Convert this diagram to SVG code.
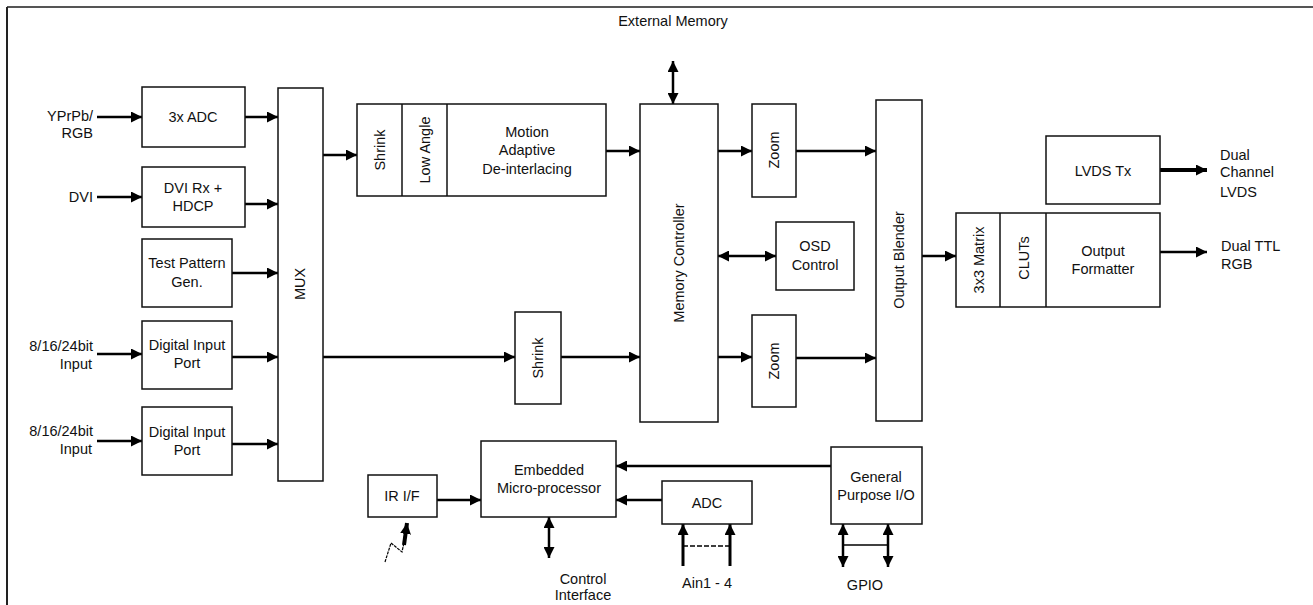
<svg xmlns="http://www.w3.org/2000/svg" width="1313" height="605" viewBox="0 0 1313 605">
<defs>
<style>
.box{fill:#fff;stroke:#111;stroke-width:1.5}
.t{font-family:"Liberation Sans",Arial,sans-serif;font-size:14.5px;fill:#111;text-anchor:middle}
.l{font-family:"Liberation Sans",Arial,sans-serif;font-size:14.5px;fill:#111}
.r{text-anchor:end}
.c{fill:none;stroke:#000;stroke-width:2.5}
.c1{marker-end:url(#ah)}
.c2{marker-end:url(#ah);marker-start:url(#ah)}
</style>
<marker id="ah" markerWidth="11" markerHeight="11" refX="11" refY="5.5" orient="auto-start-reverse" markerUnits="userSpaceOnUse"><path d="M0,0 L11,5.5 L0,11 z" fill="#000"/></marker>
</defs>
<rect width="1313" height="605" fill="#fff"/>
<line x1="7" y1="7" x2="1313" y2="7" stroke="#555" stroke-width="2"/>
<line x1="7" y1="7" x2="7" y2="605" stroke="#222" stroke-width="2"/>

<g id="connectors">
<line class="c c1" x1="97" y1="117" x2="142" y2="117"/>
<line class="c c1" x1="245" y1="117" x2="278" y2="117"/>
<line class="c c1" x1="97" y1="197" x2="142" y2="197"/>
<line class="c c1" x1="245" y1="204" x2="278" y2="204"/>
<line class="c c1" x1="232" y1="273" x2="278" y2="273"/>
<line class="c c1" x1="97" y1="354" x2="142" y2="354"/>
<line class="c c1" x1="232" y1="357" x2="278" y2="357"/>
<line class="c c1" x1="97" y1="441" x2="142" y2="441"/>
<line class="c c1" x1="232" y1="444" x2="278" y2="444"/>
<line class="c c1" x1="323" y1="155" x2="357" y2="155"/>
<line class="c c1" x1="606" y1="151" x2="640" y2="151"/>
<line class="c c2" x1="673" y1="61" x2="673" y2="104"/>
<line class="c c1" x1="718" y1="151" x2="752" y2="151"/>
<line class="c c1" x1="796" y1="151" x2="876" y2="151"/>
<line class="c c2" x1="718" y1="256" x2="776" y2="256"/>
<line class="c c1" x1="718" y1="357" x2="752" y2="357"/>
<line class="c c1" x1="796" y1="358" x2="876" y2="358"/>
<line class="c c1" x1="323" y1="357" x2="515" y2="357"/>
<line class="c c1" x1="561" y1="357" x2="640" y2="357"/>
<line class="c c1" x1="922" y1="256" x2="956" y2="256"/>
<line class="c c1" x1="1160" y1="170" x2="1207" y2="170" style="stroke-width:4"/>
<line class="c c1" x1="1160" y1="252" x2="1207" y2="252"/>
<line class="c c1" x1="831" y1="466" x2="616" y2="466"/>
<line class="c c1" x1="662" y1="500" x2="616" y2="500"/>
<line class="c c1" x1="437" y1="500" x2="481" y2="500"/>
<line class="c c2" x1="549" y1="517" x2="549" y2="558"/>
<line class="c c1" x1="683" y1="566" x2="683" y2="524" style="stroke-width:3"/>
<line class="c c1" x1="730" y1="566" x2="730" y2="524" style="stroke-width:3"/>
<line x1="683" y1="546" x2="730" y2="546" stroke="#000" stroke-width="1.5" stroke-dasharray="5,2"/>
<line class="c c2" x1="843" y1="524" x2="843" y2="567"/>
<line class="c c2" x1="888" y1="524" x2="888" y2="567"/>
<line x1="843" y1="545" x2="888" y2="545" stroke="#000" stroke-width="1.5"/>
<polyline points="385,562 391,543 402,552 405,538" fill="none" stroke="#000" stroke-width="1.2" stroke-dasharray="3,1"/>
<line class="c c1" x1="404" y1="545" x2="407" y2="523" style="stroke-width:4"/>
</g>

<g id="adc3x"><rect class="box" x="142" y="87" width="103" height="60"/><text class="t" x="193" y="122">3x ADC</text></g>
<g id="dvirx"><rect class="box" x="142" y="167" width="103" height="60"/><text class="t" x="193" y="193">DVI Rx +</text><text class="t" x="193" y="211">HDCP</text></g>
<g id="testpattern"><rect class="box" x="142" y="239" width="90" height="68"/><text class="t" x="187" y="268">Test Pattern</text><text class="t" x="187" y="287">Gen.</text></g>
<g id="dip1"><rect class="box" x="142" y="321" width="90" height="68"/><text class="t" x="187" y="350">Digital Input</text><text class="t" x="187" y="368">Port</text></g>
<g id="dip2"><rect class="box" x="142" y="407" width="90" height="68"/><text class="t" x="187" y="437">Digital Input</text><text class="t" x="187" y="455">Port</text></g>
<g id="mux"><rect class="box" x="278" y="88" width="45" height="393"/><text class="t" transform="translate(305,284) rotate(-90)">MUX</text></g>
<g id="pipeline"><rect class="box" x="357" y="104" width="249" height="92"/><line x1="402" y1="104" x2="402" y2="196" stroke="#111" stroke-width="1.5"/><line x1="447" y1="104" x2="447" y2="196" stroke="#111" stroke-width="1.5"/>
<text class="t" transform="translate(385,150) rotate(-90)">Shrink</text><text class="t" transform="translate(430,150) rotate(-90)">Low Angle</text>
<text class="t" x="527" y="137">Motion</text><text class="t" x="527" y="155">Adaptive</text><text class="t" x="527" y="174">De-interlacing</text></g>
<g id="extmem"><text class="t" x="673" y="26">External Memory</text></g>
<g id="memctrl"><rect class="box" x="640" y="104" width="78" height="318"/><text class="t" transform="translate(684,263) rotate(-90)">Memory Controller</text></g>
<g id="zoom1"><rect class="box" x="752" y="104" width="44" height="93"/><text class="t" transform="translate(779,150) rotate(-90)">Zoom</text></g>
<g id="osd"><rect class="box" x="776" y="222" width="78" height="68"/><text class="t" x="815" y="251">OSD</text><text class="t" x="815" y="270">Control</text></g>
<g id="zoom2"><rect class="box" x="752" y="315" width="44" height="92"/><text class="t" transform="translate(779,361) rotate(-90)">Zoom</text></g>
<g id="blender"><rect class="box" x="876" y="100" width="46" height="321"/><text class="t" transform="translate(904,260) rotate(-90)">Output Blender</text></g>
<g id="lvdstx"><rect class="box" x="1046" y="136" width="114" height="68"/><text class="t" x="1103" y="176">LVDS Tx</text></g>
<g id="outfmt"><rect class="box" x="956" y="213" width="204" height="94"/><line x1="1000" y1="213" x2="1000" y2="307" stroke="#111" stroke-width="1.5"/><line x1="1046" y1="213" x2="1046" y2="307" stroke="#111" stroke-width="1.5"/>
<text class="t" transform="translate(984,260) rotate(-90)">3x3 Matrix</text><text class="t" transform="translate(1029,258) rotate(-90)">CLUTs</text>
<text class="t" x="1103" y="256">Output</text><text class="t" x="1103" y="274">Formatter</text></g>
<g id="shrink2"><rect class="box" x="515" y="312" width="46" height="92"/><text class="t" transform="translate(543,358) rotate(-90)">Shrink</text></g>
<g id="embedded"><rect class="box" x="481" y="441" width="135" height="76"/><text class="t" x="549" y="475">Embedded</text><text class="t" x="549" y="493">Micro-processor</text></g>
<g id="irif"><rect class="box" x="368" y="475" width="69" height="42"/><text class="t" x="402" y="501">IR I/F</text></g>
<g id="adc"><rect class="box" x="662" y="481" width="90" height="43"/><text class="t" x="707" y="508">ADC</text></g>
<g id="gpio"><rect class="box" x="831" y="447" width="91" height="77"/><text class="t" x="876" y="482">General</text><text class="t" x="876" y="500">Purpose I/O</text></g>

<g id="labels">
<text class="l r" x="93" y="121">YPrPb/</text><text class="l r" x="93" y="138">RGB</text>
<text class="l r" x="93" y="202">DVI</text>
<text class="l r" x="93" y="351">8/16/24bit</text><text class="l r" x="92" y="369">Input</text>
<text class="l r" x="93" y="436">8/16/24bit</text><text class="l r" x="92" y="454">Input</text>
<text class="l" x="1220" y="160">Dual</text><text class="l" x="1220" y="177">Channel</text><text class="l" x="1220" y="197">LVDS</text>
<text class="l" x="1221" y="251">Dual TTL</text><text class="l" x="1221" y="269">RGB</text>
<text class="t" x="583" y="584">Control</text><text class="t" x="583" y="600">Interface</text>
<text class="t" x="707" y="588">Ain1 - 4</text>
<text class="t" x="865" y="590">GPIO</text>
</g>
</svg>
